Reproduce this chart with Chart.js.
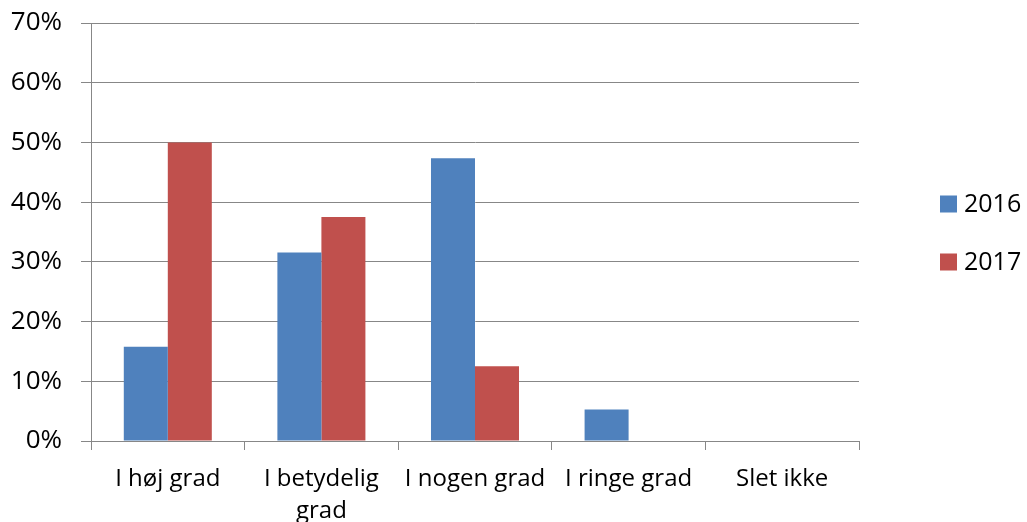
<!DOCTYPE html>
<html>
<head>
<meta charset="utf-8">
<script src="https://cdn.jsdelivr.net/npm/chart.js@4.4.1/dist/chart.umd.min.js"></script>
<style>
  html, body { margin: 0; padding: 0; background: #fff; }
  #wrap { width: 1027px; height: 522px; }
</style>
</head>
<body>
<div id="wrap"><canvas id="c" width="1027" height="522"></canvas></div>
<script>
var categories = ["I høj grad", ["I betydelig", "grad"], "I nogen grad", "I ringe grad", "Slet ikke"];
var values2016 = [15.79, 31.58, 47.37, 5.26, 0];
var values2017 = [50, 37.5, 12.5, 0, 0];
var yTicks = [0, 10, 20, 30, 40, 50, 60, 70];

var gridColor = "#878787";
var fontFamily = "'Open Sans', 'Noto Sans', sans-serif";

// legend drawn at the right, like the original
var sideLegend = {
  id: "sideLegend",
  afterDraw: function (chart) {
    var ctx = chart.ctx;
    var rows = [204, 262];
    ctx.save();
    ctx.font = "25px " + fontFamily;
    ctx.textBaseline = "middle";
    chart.data.datasets.forEach(function (ds, i) {
      var y = rows[i];
      ctx.fillStyle = ds.backgroundColor;
      ctx.fillRect(940, y - 8.5, 17, 17);
      ctx.fillStyle = "#000";
      ctx.fillText(ds.label, 964, y + 1);
    });
    ctx.restore();
  }
};

var ctx = document.getElementById("c").getContext("2d");
var chart = new Chart(ctx, {
  type: "bar",
  data: {
    labels: categories,
    datasets: [
      {
        label: "2016",
        data: values2016,
        backgroundColor: "#4F81BD",
        borderWidth: 0
      },
      {
        label: "2017",
        data: values2017,
        backgroundColor: "#C0504D",
        borderWidth: 0
      }
    ]
  },
  options: {
    responsive: false,
    animation: false,
    layout: {
      padding: { left: 0, right: 168, top: 23, bottom: 0 }
    },
    categoryPercentage: 0.573,
    barPercentage: 1,
    plugins: {
      legend: { display: false },
      tooltip: { enabled: false }
    },
    scales: {
      x: {
        grid: {
          offset: true,
          drawOnChartArea: false,
          drawTicks: true,
          tickLength: 9,
          color: gridColor,
          lineWidth: 1
        },
        border: { color: gridColor, width: 1 },
        ticks: {
          color: "#000",
          font: { family: fontFamily, size: 24, lineHeight: 1.35 },
          padding: 13,
          maxRotation: 0,
          autoSkip: false
        },
        afterFit: function (scale) {
          scale.height = 81;
          scale.paddingLeft = 0;
          scale.paddingRight = 0;
        }
      },
      y: {
        min: 0,
        max: 70,
        afterBuildTicks: function (scale) {
          scale.ticks = yTicks.map(function (v) { return { value: v }; });
        },
        grid: {
          color: gridColor,
          lineWidth: 1,
          tickLength: 10
        },
        border: { color: gridColor, width: 1 },
        ticks: {
          color: "#000",
          font: { family: fontFamily, size: 26 },
          padding: 19,
          callback: function (v) { return v + "%"; }
        },
        afterFit: function (scale) {
          scale.width = 91;
          scale.paddingTop = 0;
          scale.paddingBottom = 0;
        }
      }
    }
  },
  plugins: [sideLegend]
});
</script>
</body>
</html>
